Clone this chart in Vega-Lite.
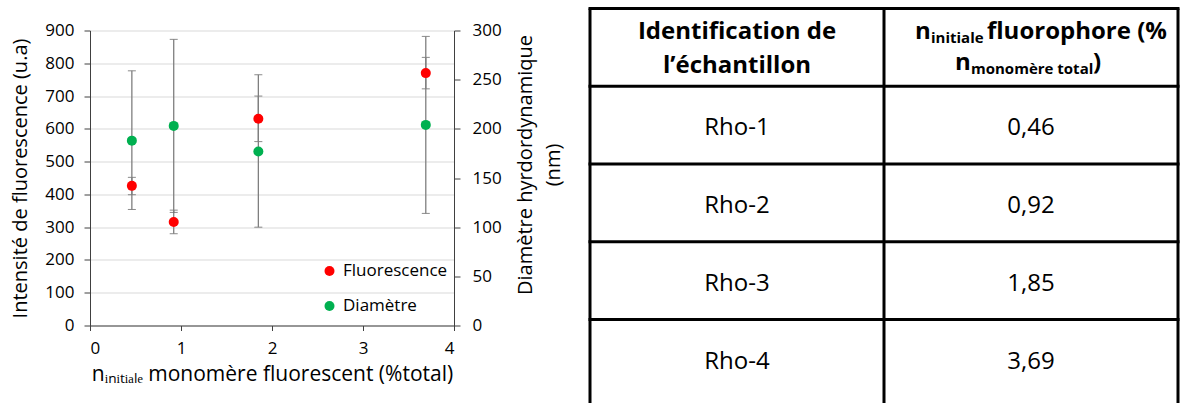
{
  "$schema": "https://vega.github.io/schema/vega-lite/v6.json",
  "padding": {"left": 10, "top": 5.5, "right": 0, "bottom": 0},
  "bounds": "flush",
  "spacing": 136,
  "config": {
    "font": "Open Sans",
    "view": {"stroke": null},
    "axis": {"labelFont": "Open Sans", "titleFont": "Open Sans", "labelColor": "#000000", "titleColor": "#000000", "titleFontWeight": "normal", "domainColor": "#404040", "tickColor": "#404040"},
    "legend": {"labelFont": "Open Sans"},
    "text": {"font": "Open Sans", "color": "#000000"}
  },
  "datasets": {
    "fluo": [
      {"n": 0.46, "serie": "Fluorescence", "val": 426, "lo": 399, "hi": 452},
      {"n": 0.92, "serie": "Fluorescence", "val": 316, "lo": 280, "hi": 352},
      {"n": 1.85, "serie": "Fluorescence", "val": 631, "lo": 561, "hi": 700},
      {"n": 3.69, "serie": "Fluorescence", "val": 770, "lo": 722, "hi": 818}
    ],
    "diam": [
      {"n": 0.46, "serie": "Diamètre", "val": 188, "lo": 118, "hi": 259},
      {"n": 0.92, "serie": "Diamètre", "val": 203, "lo": 115, "hi": 291},
      {"n": 1.85, "serie": "Diamètre", "val": 177, "lo": 100, "hi": 255},
      {"n": 3.69, "serie": "Diamètre", "val": 204, "lo": 114, "hi": 294}
    ],
    "rows": [
      {"row": 1, "id": "Rho-1", "val": "0,46"},
      {"row": 2, "id": "Rho-2", "val": "0,92"},
      {"row": 3, "id": "Rho-3", "val": "1,85"},
      {"row": 4, "id": "Rho-4", "val": "3,69"}
    ],
    "hlines": [{"edge": 0}, {"edge": 1}, {"edge": 2}, {"edge": 3}, {"edge": 4}],
    "vlines": [{"edge": 0}, {"edge": 1}, {"edge": 2}],
    "hdr": [
      {"piece": "c1a", "text": "Identification de"},
      {"piece": "c1b", "text": "l’échantillon"},
      {"piece": "n1", "text": "n"},
      {"piece": "s1", "text": "initiale"},
      {"piece": "r1", "text": "fluorophore (%"},
      {"piece": "n2", "text": "n"},
      {"piece": "s2", "text": "monomère total"},
      {"piece": "r2", "text": ")"}
    ]
  },
  "hconcat": [
    {
      "width": 364,
      "height": 295,
      "layer": [
        {
          "data": {"name": "fluo"},
          "mark": {"type": "errorbar", "ticks": {"size": 8, "color": "#595959", "strokeWidth": 1.2}, "rule": {"color": "#7f7f7f", "strokeWidth": 1.3}},
          "encoding": {
            "x": {"field": "n", "type": "quantitative", "scale": {"domain": [0, 4], "nice": false}, "axis": {"values": [0, 1, 2, 3, 4], "title": "nᵢₙᵢₜᵢₐₗₑ monomère fluorescent (%total)", "grid": false, "tickSize": 5, "labelFontSize": 17, "labelPadding": 10, "titleFontSize": 21, "titlePadding": 7}},
            "y": {"field": "lo", "type": "quantitative", "scale": {"domain": [0, 900], "nice": false}, "axis": {"orient": "left", "values": [0, 100, 200, 300, 400, 500, 600, 700, 800, 900], "title": "Intensité de fluorescence (u.a)", "grid": true, "gridColor": "#d9d9d9", "tickSize": 6, "labelPadding": 10, "labelFontSize": 17, "titleFontSize": 20, "titlePadding": 14}},
            "y2": {"field": "hi"}
          }
        },
        {
          "data": {"name": "diam"},
          "mark": {"type": "errorbar", "ticks": {"size": 8, "color": "#595959", "strokeWidth": 1.2}, "rule": {"color": "#7f7f7f", "strokeWidth": 1.3}},
          "encoding": {
            "x": {"field": "n", "type": "quantitative", "scale": {"domain": [0, 4], "nice": false}, "axis": {"values": [0, 1, 2, 3, 4], "title": "nᵢₙᵢₜᵢₐₗₑ monomère fluorescent (%total)", "grid": false, "tickSize": 5, "labelFontSize": 17, "labelPadding": 10, "titleFontSize": 21, "titlePadding": 7}},
            "y": {"field": "lo", "type": "quantitative", "scale": {"domain": [0, 300], "nice": false}, "axis": {"orient": "right", "values": [0, 50, 100, 150, 200, 250, 300], "title": ["Diamètre hyrdordynamique", "(nm)"], "grid": false, "tickSize": 6, "labelPadding": 12, "labelFontSize": 17, "titleFontSize": 20, "titleAngle": 270, "titleBaseline": "top", "titleLineHeight": 28, "titlePadding": -14, "titleY": 134}},
            "y2": {"field": "hi"}
          }
        },
        {
          "data": {"name": "fluo"},
          "mark": {"type": "circle", "size": 100, "opacity": 1},
          "encoding": {
            "x": {"field": "n", "type": "quantitative", "scale": {"domain": [0, 4], "nice": false}, "axis": {"values": [0, 1, 2, 3, 4], "title": "nᵢₙᵢₜᵢₐₗₑ monomère fluorescent (%total)", "grid": false, "tickSize": 5, "labelFontSize": 17, "labelPadding": 10, "titleFontSize": 21, "titlePadding": 7}},
            "y": {"field": "val", "type": "quantitative", "scale": {"domain": [0, 900], "nice": false}, "axis": null},
            "color": {"field": "serie", "type": "nominal", "scale": {"domain": ["Fluorescence", "Diamètre"], "range": ["#ff0000", "#00b050"]}, "legend": {"orient": "none", "legendX": 231, "legendY": 232, "title": null, "labelFontSize": 17, "symbolSize": 100, "symbolType": "circle", "rowPadding": 17, "labelOffset": 5, "padding": 0}}
          }
        },
        {
          "data": {"name": "diam"},
          "mark": {"type": "circle", "size": 100, "opacity": 1},
          "encoding": {
            "x": {"field": "n", "type": "quantitative", "scale": {"domain": [0, 4], "nice": false}, "axis": {"values": [0, 1, 2, 3, 4], "title": "nᵢₙᵢₜᵢₐₗₑ monomère fluorescent (%total)", "grid": false, "tickSize": 5, "labelFontSize": 17, "labelPadding": 10, "titleFontSize": 21, "titlePadding": 7}},
            "y": {"field": "val", "type": "quantitative", "scale": {"domain": [0, 300], "nice": false}, "axis": null},
            "color": {"field": "serie", "type": "nominal", "scale": {"domain": ["Fluorescence", "Diamètre"], "range": ["#ff0000", "#00b050"]}, "legend": {"orient": "none", "legendX": 231, "legendY": 232, "title": null, "labelFontSize": 17, "symbolSize": 100, "symbolType": "circle", "rowPadding": 17, "labelOffset": 5, "padding": 0}}
          }
        }
      ],
      "resolve": {"scale": {"y": "independent"}, "axis": {"y": "independent"}}
    },
    {
      "width": 588,
      "height": 373,
      "encoding": {
        "x": {"type": "quantitative", "scale": {"domain": [0, 2], "nice": false, "zero": false}, "axis": null},
        "y": {"type": "quantitative", "scale": {"domain": [0.283, 5.08], "reverse": true, "nice": false, "zero": false}, "axis": null}
      },
      "layer": [
        {
          "data": {"name": "hlines"},
          "mark": {"type": "rule", "color": "#000000", "strokeWidth": 3, "strokeCap": "square"},
          "encoding": {"y": {"field": "edge", "type": "quantitative", "scale": {"domain": [0.283, 5.08], "reverse": true, "nice": false, "zero": false}, "axis": null}}
        },
        {
          "data": {"name": "vlines"},
          "mark": {"type": "rule", "color": "#000000", "strokeWidth": 3},
          "encoding": {
            "x": {"field": "edge", "type": "quantitative", "scale": {"domain": [0, 2], "nice": false, "zero": false}, "axis": null},
            "y": {"datum": 0, "type": "quantitative"},
            "y2": {"datum": 5.08}
          }
        },
        {
          "data": {"name": "rows"},
          "mark": {"type": "text", "fontSize": 24, "align": "center", "baseline": "middle", "dy": 42},
          "encoding": {"x": {"datum": 0.5, "type": "quantitative"}, "y": {"field": "row", "type": "quantitative"}, "text": {"field": "id"}}
        },
        {
          "data": {"name": "rows"},
          "mark": {"type": "text", "fontSize": 24, "align": "center", "baseline": "middle", "dy": 42},
          "encoding": {"x": {"datum": 1.5, "type": "quantitative"}, "y": {"field": "row", "type": "quantitative"}, "text": {"field": "val"}}
        },
        {
          "data": {"name": "hdr"},
          "transform": [{"filter": "datum.piece === 'c1a'"}],
          "mark": {"type": "text", "fontSize": 24, "fontWeight": "bold", "align": "center", "baseline": "alphabetic", "dy": 31},
          "encoding": {"x": {"datum": 0.5, "type": "quantitative"}, "y": {"datum": 0, "type": "quantitative"}, "text": {"field": "text"}}
        },
        {
          "data": {"name": "hdr"},
          "transform": [{"filter": "datum.piece === 'c1b'"}],
          "mark": {"type": "text", "fontSize": 24, "fontWeight": "bold", "align": "center", "baseline": "alphabetic", "dy": 65},
          "encoding": {"x": {"datum": 0.5, "type": "quantitative"}, "y": {"datum": 0, "type": "quantitative"}, "text": {"field": "text"}}
        },
        {
          "data": {"name": "hdr"},
          "transform": [{"filter": "datum.piece === 'n1'"}],
          "mark": {"type": "text", "fontSize": 24, "fontWeight": "bold", "align": "left", "baseline": "alphabetic", "dx": -116, "dy": 31},
          "encoding": {"x": {"datum": 1.5, "type": "quantitative"}, "y": {"datum": 0, "type": "quantitative"}, "text": {"field": "text"}}
        },
        {
          "data": {"name": "hdr"},
          "transform": [{"filter": "datum.piece === 's1'"}],
          "mark": {"type": "text", "fontSize": 15, "fontWeight": "bold", "align": "left", "baseline": "alphabetic", "dx": -100, "dy": 35},
          "encoding": {"x": {"datum": 1.5, "type": "quantitative"}, "y": {"datum": 0, "type": "quantitative"}, "text": {"field": "text"}}
        },
        {
          "data": {"name": "hdr"},
          "transform": [{"filter": "datum.piece === 'r1'"}],
          "mark": {"type": "text", "fontSize": 24, "fontWeight": "bold", "align": "left", "baseline": "alphabetic", "dx": -44, "dy": 31},
          "encoding": {"x": {"datum": 1.5, "type": "quantitative"}, "y": {"datum": 0, "type": "quantitative"}, "text": {"field": "text"}}
        },
        {
          "data": {"name": "hdr"},
          "transform": [{"filter": "datum.piece === 'n2'"}],
          "mark": {"type": "text", "fontSize": 24, "fontWeight": "bold", "align": "left", "baseline": "alphabetic", "dx": -76, "dy": 62},
          "encoding": {"x": {"datum": 1.5, "type": "quantitative"}, "y": {"datum": 0, "type": "quantitative"}, "text": {"field": "text"}}
        },
        {
          "data": {"name": "hdr"},
          "transform": [{"filter": "datum.piece === 's2'"}],
          "mark": {"type": "text", "fontSize": 15, "fontWeight": "bold", "align": "left", "baseline": "alphabetic", "dx": -60, "dy": 66},
          "encoding": {"x": {"datum": 1.5, "type": "quantitative"}, "y": {"datum": 0, "type": "quantitative"}, "text": {"field": "text"}}
        },
        {
          "data": {"name": "hdr"},
          "transform": [{"filter": "datum.piece === 'r2'"}],
          "mark": {"type": "text", "fontSize": 24, "fontWeight": "bold", "align": "left", "baseline": "alphabetic", "dx": 62, "dy": 62},
          "encoding": {"x": {"datum": 1.5, "type": "quantitative"}, "y": {"datum": 0, "type": "quantitative"}, "text": {"field": "text"}}
        }
      ]
    }
  ]
}
